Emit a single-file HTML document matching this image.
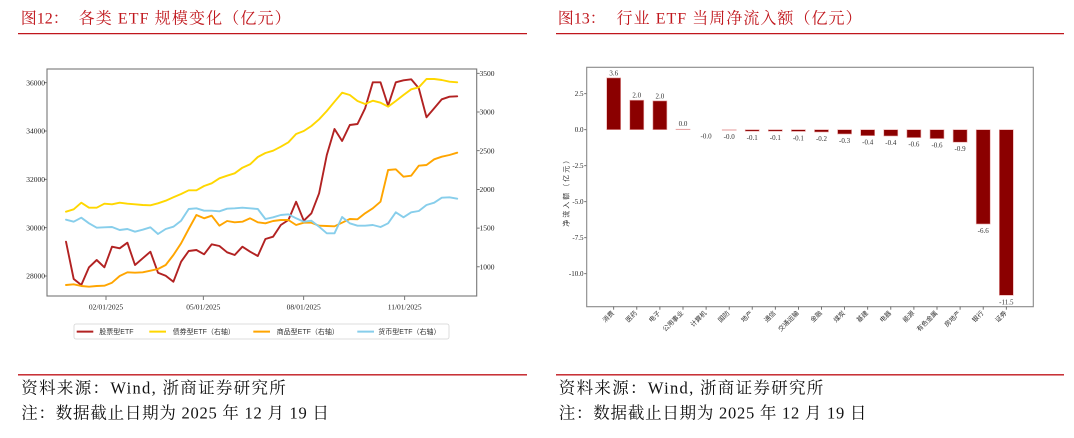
<!DOCTYPE html>
<html><head><meta charset="utf-8">
<style>
html,body{margin:0;padding:0;background:#fff;}
svg{display:block;}
.t{font-family:"Liberation Serif","Noto Serif CJK SC",serif;}
.c{font-family:"Liberation Serif","Noto Serif CJK SC",serif;}
.s{font-family:"Liberation Sans","Noto Sans CJK SC",sans-serif;}
</style></head>
<body>
<svg width="1074" height="438" viewBox="0 0 1074 438" xmlns="http://www.w3.org/2000/svg">
<rect width="1074" height="438" fill="#fff"/>

<!-- ===== Titles ===== -->
<text class="t" x="20.7" y="23.5" font-size="16" fill="#c0161c">图12：</text>
<text class="t" x="78.6" y="23.5" font-size="16" fill="#c0161c" textLength="212" lengthAdjust="spacing">各类 ETF 规模变化（亿元）</text>
<line x1="18" y1="33.6" x2="527" y2="33.6" stroke="#c0161c" stroke-width="1.3"/>

<text class="t" x="557.7" y="23.5" font-size="16" fill="#c0161c">图13：</text>
<text class="t" x="616.6" y="23.5" font-size="16" fill="#c0161c" textLength="245" lengthAdjust="spacing">行业 ETF 当周净流入额（亿元）</text>
<line x1="556" y1="33.6" x2="1064" y2="33.6" stroke="#c0161c" stroke-width="1.3"/>

<!-- ===== Footers ===== -->
<line x1="18" y1="374.8" x2="527" y2="374.8" stroke="#c0161c" stroke-width="1.3"/>
<text class="t" x="21.3" y="393.5" font-size="16.5" fill="#111" textLength="264.5" lengthAdjust="spacing">资料来源：Wind, 浙商证券研究所</text>
<text class="t" x="21.3" y="418.3" font-size="16.5" fill="#111" textLength="307.6" lengthAdjust="spacing">注：数据截止日期为 2025 年 12 月 19 日</text>

<line x1="556" y1="374.8" x2="1064" y2="374.8" stroke="#c0161c" stroke-width="1.3"/>
<text class="t" x="558.8" y="393.5" font-size="16.5" fill="#111" textLength="264.5" lengthAdjust="spacing">资料来源：Wind, 浙商证券研究所</text>
<text class="t" x="558.8" y="418.3" font-size="16.5" fill="#111" textLength="307.6" lengthAdjust="spacing">注：数据截止日期为 2025 年 12 月 19 日</text>

<!-- ===== Left chart ===== -->
<g class="c" font-size="7.5" fill="#222">
  <g stroke="#555" stroke-width="0.8">
    <line x1="44" y1="82.7" x2="47" y2="82.7"/>
    <line x1="44" y1="131" x2="47" y2="131"/>
    <line x1="44" y1="179.3" x2="47" y2="179.3"/>
    <line x1="44" y1="227.7" x2="47" y2="227.7"/>
    <line x1="44" y1="276" x2="47" y2="276"/>
    <line x1="476.7" y1="73.3" x2="479.7" y2="73.3"/>
    <line x1="476.7" y1="112" x2="479.7" y2="112"/>
    <line x1="476.7" y1="150.7" x2="479.7" y2="150.7"/>
    <line x1="476.7" y1="189.4" x2="479.7" y2="189.4"/>
    <line x1="476.7" y1="228.1" x2="479.7" y2="228.1"/>
    <line x1="476.7" y1="266.8" x2="479.7" y2="266.8"/>
    <line x1="106" y1="296" x2="106" y2="300"/>
    <line x1="203.3" y1="296" x2="203.3" y2="300"/>
    <line x1="303.7" y1="296" x2="303.7" y2="300"/>
    <line x1="404.7" y1="296" x2="404.7" y2="300"/>
  </g>
  <g text-anchor="end">
    <text x="45" y="85.3">36000</text>
    <text x="45" y="133.6">34000</text>
    <text x="45" y="181.9">32000</text>
    <text x="45" y="230.3">30000</text>
    <text x="45" y="278.6">28000</text>
  </g>
  <g text-anchor="start">
    <text x="479.5" y="75.9">3500</text>
    <text x="479.5" y="114.6">3000</text>
    <text x="479.5" y="153.3">2500</text>
    <text x="479.5" y="192">2000</text>
    <text x="479.5" y="230.7">1500</text>
    <text x="479.5" y="269.4">1000</text>
  </g>
  <g text-anchor="middle">
    <text x="106" y="309.5">02/01/2025</text>
    <text x="203.3" y="309.5">05/01/2025</text>
    <text x="303.7" y="309.5">08/01/2025</text>
    <text x="404.7" y="309.5">11/01/2025</text>
  </g>
</g>

<g fill="none" stroke-width="1.9" stroke-linejoin="round" stroke-linecap="round">
<polyline stroke="#b22222" points="66,241.7 73.7,279 81.3,285 89,267.3 96.7,260 104.4,267.3 112,246.7 119.7,248.3 127.4,242.7 135,265 142.7,258.3 150.4,251.7 158,272.7 165.7,275.7 173.4,281.7 181.1,261.7 188.7,251 196.4,250 204.1,254.3 211.7,244.3 219.4,246 227.1,252.3 234.7,255 242.4,246.7 250.1,251.7 257.8,256 265.4,239 273.1,236.7 280.8,225 288.4,220 296.1,201.7 303.8,220.7 311.4,213.3 319.1,193.3 326.8,155 334.5,129 342.1,141 349.8,125 357.5,124 365.1,108.3 372.8,82.3 380.5,82.3 388.1,105.7 395.8,82.3 403.5,80.3 411.2,79.3 418.8,88.3 426.5,117.3 434.2,108.3 441.8,99.3 449.5,96.7 457.2,96.3"/>
<polyline stroke="#ffd700" points="66,211.7 73.7,209.3 81.3,202.7 89,207.7 96.7,207.7 104.4,203.7 112,204.3 119.7,202.7 127.4,203.7 135,204.3 142.7,205 150.4,205.3 158,203.3 165.7,200.7 173.4,197.3 181.1,194 188.7,190.3 196.4,190.3 204.1,186 211.7,183.3 219.4,178.3 227.1,175.7 234.7,173.3 242.4,167.7 250.1,164.3 257.8,157 265.4,153 273.1,150.7 280.8,146.7 288.4,142.3 296.1,134 303.8,131 311.4,126 319.1,119.3 326.8,111 334.5,101.7 342.1,92.7 349.8,95 357.5,101 365.1,104 372.8,100.7 380.5,102.7 388.1,106.7 395.8,101 403.5,95 411.2,89.3 418.8,87.3 426.5,79 434.2,79 441.8,80 449.5,81.7 457.2,82.3"/>
<polyline stroke="#ffa500" points="66,285 73.7,284.3 81.3,286 89,286.7 96.7,286 104.4,285.7 112,282.7 119.7,276 127.4,272.3 135,272.7 142.7,272.3 150.4,270.7 158,269 165.7,265 173.4,255 181.1,243.3 188.7,229 196.4,215 204.1,218.3 211.7,215.7 219.4,225.7 227.1,221 234.7,222.3 242.4,221.7 250.1,218.3 257.8,222.3 265.4,223.3 273.1,221 280.8,220 288.4,220 296.1,225 303.8,222.7 311.4,222.7 319.1,225.7 326.8,226 334.5,226.3 342.1,222.7 349.8,219 357.5,219.3 365.1,213.3 372.8,208.3 380.5,201.7 388.1,170 395.8,169.3 403.5,176.7 411.2,175.7 418.8,165.7 426.5,165 434.2,159.3 441.8,156.7 449.5,155 457.2,152.7"/>
<polyline stroke="#87ceeb" points="66,219.7 73.7,221.7 81.3,217.7 89,223.3 96.7,227.7 104.4,227.3 112,227 119.7,230 127.4,229 135,231.7 142.7,229.7 150.4,227.3 158,234 165.7,229 173.4,226.7 181.1,220.7 188.7,209 196.4,208.3 204.1,210.7 211.7,210.7 219.4,211.3 227.1,208.7 234.7,208.3 242.4,207.7 250.1,208.3 257.8,209 265.4,219 273.1,217.3 280.8,215 288.4,214.3 296.1,218.3 303.8,221.7 311.4,220.7 319.1,226.7 326.8,233.3 334.5,233.3 342.1,217 349.8,223.3 357.5,225.7 365.1,225.7 372.8,225 380.5,227 388.1,223.3 395.8,212.3 403.5,217.3 411.2,212.3 418.8,211 426.5,205 434.2,202.7 441.8,197.7 449.5,197.3 457.2,198.7"/>
</g>
<rect x="47" y="69" width="429.7" height="227" fill="none" stroke="#777" stroke-width="1.1"/>

<!-- legend -->
<rect x="74" y="324" width="375" height="15" rx="2" fill="#fff" stroke="#d4d4d4" stroke-width="0.8"/>
<g stroke-width="2">
  <line x1="76.7" y1="331.6" x2="93.3" y2="331.6" stroke="#b22222"/>
  <line x1="149.3" y1="331.6" x2="166" y2="331.6" stroke="#ffd700"/>
  <line x1="253.3" y1="331.6" x2="270" y2="331.6" stroke="#ffa500"/>
  <line x1="357.3" y1="331.6" x2="374" y2="331.6" stroke="#87ceeb"/>
</g>
<g class="s" font-size="7" fill="#333">
  <text x="99.3" y="334.2">股票型ETF</text>
  <text x="172.7" y="334.2">债券型ETF（右轴）</text>
  <text x="276.7" y="334.2">商品型ETF（右轴）</text>
  <text x="378.3" y="334.2">货币型ETF（右轴）</text>
</g>

<!-- ===== Right chart ===== -->
<g class="c" font-size="7" fill="#222">
  <g stroke="#555" stroke-width="0.8">
    <line x1="584.2" y1="93.7" x2="586.7" y2="93.7"/>
    <line x1="584.2" y1="129.7" x2="586.7" y2="129.7"/>
    <line x1="584.2" y1="165.7" x2="586.7" y2="165.7"/>
    <line x1="584.2" y1="201.7" x2="586.7" y2="201.7"/>
    <line x1="584.2" y1="237.7" x2="586.7" y2="237.7"/>
    <line x1="584.2" y1="273.7" x2="586.7" y2="273.7"/>
  </g>
  <g text-anchor="end">
    <text x="583.5" y="96.2">2.5</text>
    <text x="583.5" y="132.2">0.0</text>
    <text x="583.5" y="168.2">-2.5</text>
    <text x="583.5" y="204.2">-5.0</text>
    <text x="583.5" y="240.2">-7.5</text>
    <text x="583.5" y="276.2">-10.0</text>
  </g>
</g>
<text class="s" font-size="7" fill="#333" x="-35" y="0" textLength="70" lengthAdjust="spacing" transform="translate(568.5,191.7) rotate(-90)">净流入额（亿元）</text>

<g fill="#8b0000" stroke="#e9a6a6" stroke-width="0.6">
  <rect x="606.7" y="77.9" width="14" height="51.8"/>
  <rect x="629.8" y="100.2" width="14" height="29.5"/>
  <rect x="652.9" y="100.9" width="14" height="28.8"/>
  <rect x="676" y="129.2" width="14" height="0.5"/>
  <rect x="722.2" y="129.7" width="14" height="0.6"/>
  <rect x="745.2" y="129.7" width="14" height="1.5"/>
  <rect x="768.3" y="129.7" width="14" height="1.5"/>
  <rect x="791.4" y="129.7" width="14" height="1.7"/>
  <rect x="814.5" y="129.7" width="14" height="2.3"/>
  <rect x="837.6" y="129.7" width="14" height="4.3"/>
  <rect x="860.7" y="129.7" width="14" height="6.0"/>
  <rect x="883.8" y="129.7" width="14" height="6.3"/>
  <rect x="906.9" y="129.7" width="14" height="7.9"/>
  <rect x="930" y="129.7" width="14" height="8.9"/>
  <rect x="953.1" y="129.7" width="14" height="12.5"/>
  <rect x="976.2" y="129.7" width="14" height="94.3"/>
  <rect x="999.3" y="129.7" width="14" height="165.6"/>
</g>
<g class="c" font-size="7" fill="#333" text-anchor="middle">
  <text x="613.7" y="75.4">3.6</text>
  <text x="636.8" y="97.7">2.0</text>
  <text x="659.9" y="98.4">2.0</text>
  <text x="683" y="126">0.0</text>
  <text x="706.1" y="138.5">-0.0</text>
  <text x="729.2" y="139">-0.0</text>
  <text x="752.2" y="140.2">-0.1</text>
  <text x="775.3" y="140.2">-0.1</text>
  <text x="798.4" y="140.4">-0.1</text>
  <text x="821.5" y="141">-0.2</text>
  <text x="844.6" y="143">-0.3</text>
  <text x="867.7" y="144.7">-0.4</text>
  <text x="890.8" y="145">-0.4</text>
  <text x="913.9" y="146.6">-0.6</text>
  <text x="937" y="147.6">-0.6</text>
  <text x="960.1" y="151.2">-0.9</text>
  <text x="983.2" y="233">-6.6</text>
  <text x="1006.3" y="304.5">-11.5</text>
</g>
<rect x="586.7" y="67.3" width="446.6" height="239.4" fill="none" stroke="#888" stroke-width="1.1"/>

<g stroke="#555" stroke-width="0.8">
  <line x1="613.7" y1="306.7" x2="613.7" y2="309.7"/>
  <line x1="636.8" y1="306.7" x2="636.8" y2="309.7"/>
  <line x1="659.9" y1="306.7" x2="659.9" y2="309.7"/>
  <line x1="683" y1="306.7" x2="683" y2="309.7"/>
  <line x1="706.1" y1="306.7" x2="706.1" y2="309.7"/>
  <line x1="729.2" y1="306.7" x2="729.2" y2="309.7"/>
  <line x1="752.2" y1="306.7" x2="752.2" y2="309.7"/>
  <line x1="775.3" y1="306.7" x2="775.3" y2="309.7"/>
  <line x1="798.4" y1="306.7" x2="798.4" y2="309.7"/>
  <line x1="821.5" y1="306.7" x2="821.5" y2="309.7"/>
  <line x1="844.6" y1="306.7" x2="844.6" y2="309.7"/>
  <line x1="867.7" y1="306.7" x2="867.7" y2="309.7"/>
  <line x1="890.8" y1="306.7" x2="890.8" y2="309.7"/>
  <line x1="913.9" y1="306.7" x2="913.9" y2="309.7"/>
  <line x1="937" y1="306.7" x2="937" y2="309.7"/>
  <line x1="960.1" y1="306.7" x2="960.1" y2="309.7"/>
  <line x1="983.2" y1="306.7" x2="983.2" y2="309.7"/>
  <line x1="1006.3" y1="306.7" x2="1006.3" y2="309.7"/>
</g>
<g class="s" font-size="6.5" fill="#333" text-anchor="end">
  <text transform="translate(614.5,313.5) rotate(-45)">消费</text>
  <text transform="translate(637.6,313.5) rotate(-45)">医药</text>
  <text transform="translate(660.7,313.5) rotate(-45)">电子</text>
  <text transform="translate(683.8,313.5) rotate(-45)">公用事业</text>
  <text transform="translate(706.9,313.5) rotate(-45)">计算机</text>
  <text transform="translate(730,313.5) rotate(-45)">国防</text>
  <text transform="translate(753,313.5) rotate(-45)">地产</text>
  <text transform="translate(776.1,313.5) rotate(-45)">通信</text>
  <text transform="translate(799.2,313.5) rotate(-45)">交通运输</text>
  <text transform="translate(822.3,313.5) rotate(-45)">金融</text>
  <text transform="translate(845.4,313.5) rotate(-45)">煤炭</text>
  <text transform="translate(868.5,313.5) rotate(-45)">基建</text>
  <text transform="translate(891.6,313.5) rotate(-45)">电器</text>
  <text transform="translate(914.7,313.5) rotate(-45)">能源</text>
  <text transform="translate(937.8,313.5) rotate(-45)">有色金属</text>
  <text transform="translate(960.9,313.5) rotate(-45)">房地产</text>
  <text transform="translate(984,313.5) rotate(-45)">银行</text>
  <text transform="translate(1007.1,313.5) rotate(-45)">证券</text>
</g>
</svg>
</body></html>
